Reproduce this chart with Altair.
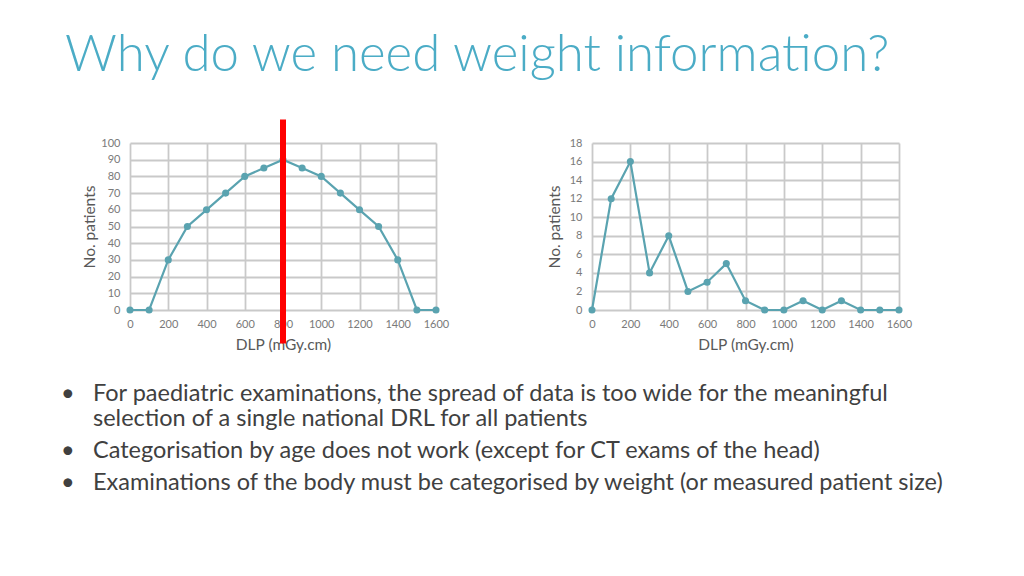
import altair as alt
import pandas as pd

# ---- data ----
DLP = list(range(0, 1700, 100))
LEFT_COUNTS = [0, 0, 30, 50, 60, 70, 80, 85, 90, 85, 80, 70, 60, 50, 30, 0, 0]
RIGHT_COUNTS = [0, 12, 16, 4, 8, 2, 3, 5, 1, 0, 0, 1, 0, 1, 0, 0, 0]
X_TICKS = list(range(0, 1601, 200))
LEFT_Y_TICKS = list(range(0, 101, 10))
RIGHT_Y_TICKS = list(range(0, 19, 2))
DRL_VALUE = [800]
TITLE = "Why do we need weight information?"
X_TITLE = "DLP (mGy.cm)"
Y_TITLE = "No. patients"
BULLET_LINES = [
    "For paediatric examinations, the spread of data is too wide for the meaningful",
    "selection of a single national DRL for all patients",
    "Categorisation by age does not work (except for CT exams of the head)",
    "Examinations of the body must be categorised by weight (or measured patient size)",
]
BULLET_MARKS = ["\u2022", "", "\u2022", "\u2022"]

# ---- styles ----
LINE_COLOR = "#5aa3b0"
GRID_COLOR = "#c9c9c9"
LABEL_COLOR = "#7a7a7a"
AXIS_TITLE_COLOR = "#595959"
TITLE_COLOR = "#4bacc6"
BODY_COLOR = "#404040"
FONT = "Lato"
PLOT_W_LEFT = 306
PLOT_W_RIGHT = 307
PLOT_H = 167
LINE_BASELINES = [91, 116, 148, 180]
BULLET_X = -69
TEXT_X = -37
BODY_SIZE = 23.5


def x_axis():
    return alt.Axis(values=X_TICKS, title=X_TITLE, format="d", labelPadding=8,
                    titlePadding=8, labelOverlap=False, labelFlush=False)


def y_axis(yticks, title_pad):
    return alt.Axis(values=yticks, title=Y_TITLE, labelPadding=10, titlePadding=title_pad,
                    labelOverlap=False, labelFlush=False)


X_SCALE = alt.Scale(domain=[0, 1600], nice=False, zero=False)


def panel(counts, yticks, ymax, width, title_pad, with_drl=False):
    df = pd.DataFrame({"dlp": DLP, "n": counts})
    y_scale = alt.Scale(domain=[0, ymax], nice=False)
    x = alt.X("dlp:Q", scale=X_SCALE, axis=x_axis())
    y = alt.Y("n:Q", scale=y_scale, axis=y_axis(yticks, title_pad))
    base = alt.Chart(df).encode(x=x, y=y)
    line = base.mark_line(color=LINE_COLOR, strokeWidth=2.2)
    pts = base.mark_circle(color=LINE_COLOR, size=50, opacity=1)
    layers = [line, pts]
    if with_drl:
        drl = alt.Chart(pd.DataFrame({"dlp": DRL_VALUE})).mark_rule(
            color="#ff0000", strokeWidth=6
        ).encode(
            x=alt.X("dlp:Q", scale=X_SCALE, axis=x_axis()),
            y=alt.YDatum(114, type="quantitative", scale=y_scale,
                         axis=y_axis(yticks, title_pad)),
            y2=alt.Y2Datum(-20),
        )
        layers.append(drl)
    return alt.layer(*layers).properties(width=width, height=PLOT_H)


left = panel(LEFT_COUNTS, LEFT_Y_TICKS, 100, PLOT_W_LEFT, 3, with_drl=True)
right = panel(RIGHT_COUNTS, RIGHT_Y_TICKS, 18, PLOT_W_RIGHT, 7)

bullet_layers = []
for i, (mark, txt) in enumerate(zip(BULLET_MARKS, BULLET_LINES)):
    d = pd.DataFrame({"t": [txt], "b": [mark]})
    bullet_layers.append(
        alt.Chart(d).mark_text(align="left", baseline="alphabetic", font=FONT,
                               fontSize=BODY_SIZE, color=BODY_COLOR)
        .encode(text="t:N", x=alt.value(TEXT_X), y=alt.value(LINE_BASELINES[i]))
    )
    if mark:
        bullet_layers.append(
            alt.Chart(d).mark_text(align="left", baseline="alphabetic", font=FONT,
                                   fontSize=BODY_SIZE, color=BODY_COLOR)
            .encode(text="b:N", x=alt.value(BULLET_X), y=alt.value(LINE_BASELINES[i]))
        )

bullets = alt.layer(*bullet_layers).properties(width=300, height=10)

chart = alt.concat(
    left, right, bullets, columns=2, bounds="flush",
    spacing={"row": 0, "column": 156},
).properties(
    title=alt.TitleParams(TITLE, anchor="start", font=FONT, fontSize=51,
                          fontWeight=300, color=TITLE_COLOR, offset=35, dx=4),
    padding={"left": 53, "top": 21, "right": 5, "bottom": 5},
).configure_view(stroke=None).configure_axis(
    domain=False, ticks=False, grid=True, gridColor=GRID_COLOR, gridWidth=1.8,
    labelColor=LABEL_COLOR, labelFont=FONT, labelFontSize=11,
    titleColor=AXIS_TITLE_COLOR, titleFont=FONT, titleFontSize=15.5, titleFontWeight="normal",
)

chart.save("out.html", embed_options={"renderer": "svg", "actions": False})
